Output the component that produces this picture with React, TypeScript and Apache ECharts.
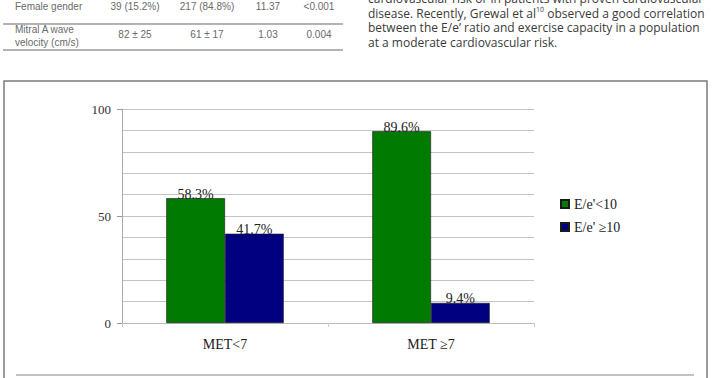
import React, { useEffect, useRef } from "react";
import * as echarts from "echarts";

const categories = ["MET<7", "MET ≥7"];
const seriesNames = ["E/e'<10", "E/e' ≥10"];
const lowRatio = [58.3, 89.6];
const highRatio = [41.7, 9.4];
const yMin = 0;
const yMax = 100;

const tableRow1 = ["39 (15.2%)", "217 (84.8%)", "11.37", "<0.001"];
const tableRow2 = ["82 ± 25", "61 ± 17", "1.03", "0.004"];
const tableCols = [135, 207, 268, 319];
const bodyLines = [
  ["cardiovascular risk or in patients with proven cardiovascular"],
  ["disease. Recently, Grewal et al", "10", " observed a good correlation"],
  ["between the E/e’ ratio and exercise capacity in a population"],
  ["at a moderate cardiovascular risk."],
];

const SERIF = "'Liberation Serif', 'Times New Roman', serif";
const SANS = "'Liberation Sans', Arial, sans-serif";
const BODY = "'Open Sans', sans-serif";

function measure(text: string, size: number): number {
  const c = document.createElement("canvas").getContext("2d");
  if (!c) return text.length * size * 0.5;
  c.font = `${size}px 'Open Sans', sans-serif`;
  return c.measureText(text).width;
}

export default function App() {
  const ref = useRef<HTMLDivElement>(null);
  useEffect(() => {
    if (!ref.current) return;
    const chart = echarts.init(ref.current, null, { renderer: "svg" });
    const tableFont = { fontFamily: SANS, fontSize: 10, fill: "#6a6a6a" };
    const bodyTexts: any[] = [];
    bodyLines.forEach((parts, i) => {
      let x = 368;
      const y = -1.5 + i * 14.5;
      parts.forEach((p, j) => {
        const isSup = parts.length === 3 && j === 1;
        const size = isSup ? 7 : 12;
        bodyTexts.push({
          type: "text",
          x,
          y: isSup ? y - 3.5 : y,
          style: { text: p, fontFamily: BODY, fontSize: size, fill: "#3a3a3a", verticalAlign: "middle" },
        });
        x += measure(p, size);
      });
    });
    const graphics: any[] = [
      { type: "line", shape: { x1: 3, y1: 24, x2: 343, y2: 24 }, style: { stroke: "#9a9a9a", lineWidth: 1.5 } },
      { type: "line", shape: { x1: 3, y1: 50, x2: 343, y2: 50 }, style: { stroke: "#9a9a9a", lineWidth: 1.5 } },
      { type: "text", x: 15, y: 6, style: { ...tableFont, text: "Female gender", verticalAlign: "middle" } },
      { type: "text", x: 15, y: 29, style: { ...tableFont, text: "Mitral A wave", verticalAlign: "middle" } },
      { type: "text", x: 15, y: 42, style: { ...tableFont, text: "velocity (cm/s)", verticalAlign: "middle" } },
      ...tableRow1.map((t, i) => ({ type: "text", x: tableCols[i], y: 6, style: { ...tableFont, text: t, align: "center", verticalAlign: "middle" } })),
      ...tableRow2.map((t, i) => ({ type: "text", x: tableCols[i], y: 34, style: { ...tableFont, text: t, align: "center", verticalAlign: "middle" } })),
      ...bodyTexts,
      { type: "polyline", shape: { points: [[4, 378], [4, 81], [707, 81], [707, 378]] }, style: { stroke: "#7a7a7a", lineWidth: 1.5, fill: "none" } },
      { type: "line", shape: { x1: 16, y1: 375, x2: 694, y2: 375 }, style: { stroke: "#888", lineWidth: 1.2 } },
    ];
    chart.setOption({
      animation: false,
      backgroundColor: "#fff",
      graphic: graphics,
      grid: { left: 122, top: 109, width: 412, height: 214, containLabel: false },
      legend: {
        orient: "vertical",
        left: 555,
        top: 192,
        itemWidth: 8,
        itemHeight: 8,
        itemGap: 9,
        icon: "rect",
        data: seriesNames,
        textStyle: { fontFamily: SERIF, fontSize: 14, color: "#222" },
      },
      xAxis: {
        type: "category",
        data: categories,
        axisLine: { show: true, lineStyle: { color: "#bbb", width: 1 } },
        axisTick: { show: true, length: 4, lineStyle: { color: "#ccc" } },
        axisLabel: { fontFamily: SERIF, fontSize: 14, color: "#222", margin: 14 },
      },
      yAxis: [
        {
          type: "value",
          min: yMin,
          max: yMax,
          interval: 10,
          axisLine: { show: false },
          axisTick: { show: false },
          axisLabel: { show: false },
          splitLine: { show: true, lineStyle: { color: "#c4c4c4", width: 1 } },
        },
        {
          type: "value",
          position: "left",
          min: yMin,
          max: yMax,
          interval: 50,
          axisLine: { show: true, lineStyle: { color: "#aaa", width: 1 } },
          axisTick: { show: true, length: 5, inside: false, lineStyle: { color: "#999" } },
          axisLabel: { fontFamily: SERIF, fontSize: 13, color: "#333", margin: 11 },
          splitLine: { show: false },
        },
      ],
      series: [
        {
          name: seriesNames[0],
          type: "bar",
          data: lowRatio,
          yAxisIndex: 0,
          barGap: "0%",
          barCategoryGap: "43%",
          itemStyle: { color: "#007a00", borderColor: "#1a1a1a", borderWidth: 0.6 },
          label: { show: true, position: "top", distance: -3, formatter: "{c}%", fontFamily: SERIF, fontSize: 14, color: "#222" },
        },
        {
          name: seriesNames[1],
          type: "bar",
          data: highRatio,
          yAxisIndex: 0,
          barGap: "0%",
          barCategoryGap: "43%",
          itemStyle: { color: "#000080", borderColor: "#1a1a1a", borderWidth: 0.6 },
          label: { show: true, position: "top", distance: -3, formatter: "{c}%", fontFamily: SERIF, fontSize: 14, color: "#222" },
        },
      ],
    });
    return () => chart.dispose();
  }, []);
  return (
    <div
      ref={ref}
      style={{ position: "fixed", left: 0, top: 0, width: 715, height: 378, background: "#fff" }}
    />
  );
}
